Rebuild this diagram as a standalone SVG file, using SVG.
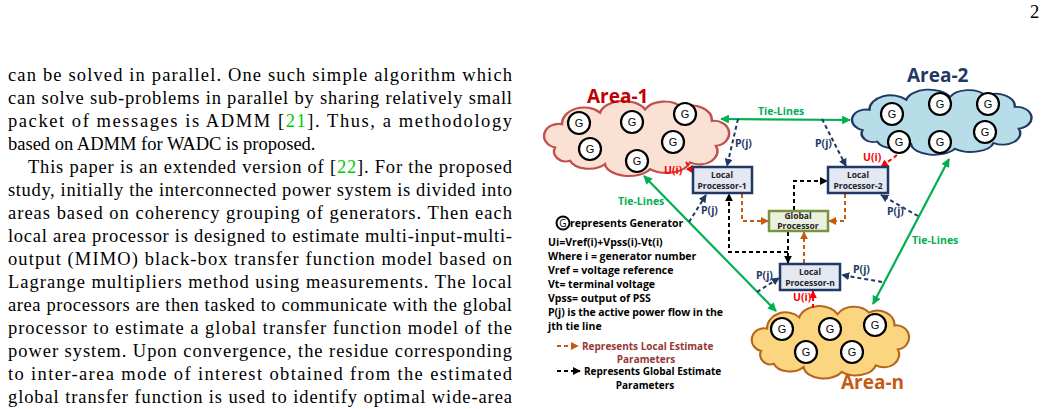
<svg xmlns="http://www.w3.org/2000/svg" width="1044" height="409" viewBox="0 0 1044 409">
<style>
.body{font-family:"Liberation Serif",serif;font-size:18.5px;fill:#000}
.d{font-family:"Open Sans","Liberation Sans",sans-serif;font-weight:bold}
.g circle{fill:#fff;stroke:#000;stroke-width:2.2}
.g text{font-family:"Liberation Sans",sans-serif;font-size:11px;text-anchor:middle;fill:#000}
.tie{stroke:#00b050;stroke-width:2.2;fill:none;marker-end:url(#mg);marker-start:url(#mgs)}
.pj{stroke:#1f3864;stroke-width:2;stroke-dasharray:4 3;fill:none;marker-end:url(#mn)}
.ui{stroke:#ff0000;stroke-width:2;stroke-dasharray:4 3;fill:none;marker-end:url(#mr)}
.loc{stroke:#c55a11;stroke-width:2;stroke-dasharray:4 3;fill:none;marker-end:url(#mo)}
.glb{stroke:#000;stroke-width:2;stroke-dasharray:4 3;fill:none;marker-end:url(#mk)}
.box{fill:#e4e8f2;stroke:#1f3864;stroke-width:2.5}
.bt{font-family:"Open Sans","Liberation Sans",sans-serif;font-weight:bold;font-size:8.5px;text-anchor:middle;fill:#222}
.lbl{font-family:"Open Sans","Liberation Sans",sans-serif;font-weight:bold;font-size:10.5px}
.leg{font-family:"Open Sans","Liberation Sans",sans-serif;font-weight:bold;font-size:10.5px;fill:#000}
</style>
<defs>
<path id="cloud" d="M13,50 A14 14 0 0 1 20,22 A22 20 0 0 1 58,8 A24 18 0 0 1 103,4 A22 18 0 0 1 140,2 A20 18 0 0 1 170,18 A14 14 0 0 1 174,48 A18 16 0 0 1 148,68 A24 16 0 0 1 108,76 A24 16 0 0 1 63,70 A20 14 0 0 1 28,66 A12 12 0 0 1 13,50 Z"/>
<marker id="mg" viewBox="0 0 10 10" refX="9" refY="5" markerWidth="4" markerHeight="4" orient="auto"><path d="M0,0L10,5L0,10z" fill="#00b050"/></marker>
<marker id="mgs" viewBox="0 0 10 10" refX="1" refY="5" markerWidth="4" markerHeight="4" orient="auto"><path d="M10,0L0,5L10,10z" fill="#00b050"/></marker>
<marker id="mn" viewBox="0 0 10 10" refX="9" refY="5" markerWidth="4" markerHeight="4" orient="auto"><path d="M0,0L10,5L0,10z" fill="#1f3864"/></marker>
<marker id="mr" viewBox="0 0 10 10" refX="9" refY="5" markerWidth="4" markerHeight="4" orient="auto"><path d="M0,0L10,5L0,10z" fill="#ff0000"/></marker>
<marker id="mo" viewBox="0 0 10 10" refX="9" refY="5" markerWidth="4" markerHeight="4" orient="auto"><path d="M0,0L10,5L0,10z" fill="#c55a11"/></marker>
<marker id="mk" viewBox="0 0 10 10" refX="9" refY="5" markerWidth="4" markerHeight="4" orient="auto"><path d="M0,0L10,5L0,10z" fill="#000"/></marker>
</defs>
<rect width="1044" height="409" fill="#fff"/>
<text class="body" x="1030" y="18" font-size="13">2</text>
<g class="body">
<text x="8" y="81" textLength="504" lengthAdjust="spacing">can be solved in parallel. One such simple algorithm which</text>
<text x="8" y="104" textLength="504" lengthAdjust="spacing">can solve sub-problems in parallel by sharing relatively small</text>
<text x="8" y="127" textLength="504" lengthAdjust="spacing">packet of messages is ADMM [<tspan fill="#00cc00">21</tspan>]. Thus, a methodology</text>
<text x="8" y="150">based on ADMM for WADC is proposed.</text>
<text x="28" y="173" textLength="484" lengthAdjust="spacing">This paper is an extended version of [<tspan fill="#00cc00">22</tspan>]. For the proposed</text>
<text x="8" y="196" textLength="504" lengthAdjust="spacing">study, initially the interconnected power system is divided into</text>
<text x="8" y="219" textLength="504" lengthAdjust="spacing">areas based on coherency grouping of generators. Then each</text>
<text x="8" y="242" textLength="504" lengthAdjust="spacing">local area processor is designed to estimate multi-input-multi-</text>
<text x="8" y="265" textLength="504" lengthAdjust="spacing">output (MIMO) black-box transfer function model based on</text>
<text x="8" y="288" textLength="504" lengthAdjust="spacing">Lagrange multipliers method using measurements. The local</text>
<text x="8" y="311" textLength="504" lengthAdjust="spacing">area processors are then tasked to communicate with the global</text>
<text x="8" y="334" textLength="504" lengthAdjust="spacing">processor to estimate a global transfer function model of the</text>
<text x="8" y="357" textLength="504" lengthAdjust="spacing">power system. Upon convergence, the residue corresponding</text>
<text x="8" y="380" textLength="504" lengthAdjust="spacing">to inter-area mode of interest obtained from the estimated</text>
<text x="8" y="403" textLength="504" lengthAdjust="spacing">global transfer function is used to identify optimal wide-area</text>
</g>

<g id="area1">
<use href="#cloud" transform="translate(542,106) scale(1,0.83)" fill="#fbe0d4" stroke="#c0504d" stroke-width="2.5" vector-effect="non-scaling-stroke"/>
<text class="d" x="587" y="103" font-size="19" fill="#c00000">Area-1</text>
<g class="g"><circle cx="579" cy="123" r="11"/><text x="579" y="127">G</text><circle cx="632" cy="122" r="11"/><text x="632" y="126">G</text><circle cx="685" cy="114" r="11"/><text x="685" y="118">G</text><circle cx="590" cy="149" r="11"/><text x="590" y="153">G</text><circle cx="637" cy="161" r="11"/><text x="637" y="165">G</text><circle cx="673" cy="142" r="11"/><text x="673" y="146">G</text></g>
</g>
<g id="area2">
<use href="#cloud" transform="translate(850,94) scale(0.97,0.72)" fill="#b7dde8" stroke="#1f3864" stroke-width="2.5" vector-effect="non-scaling-stroke"/>
<text class="d" x="907" y="82" font-size="19" fill="#1f3864">Area-2</text>
<g class="g"><circle cx="892" cy="114" r="11"/><text x="892" y="118">G</text><circle cx="940" cy="104" r="11"/><text x="940" y="108">G</text><circle cx="988" cy="104" r="11"/><text x="988" y="108">G</text><circle cx="899" cy="142" r="11"/><text x="899" y="146">G</text><circle cx="940" cy="142" r="11"/><text x="940" y="146">G</text><circle cx="985" cy="132" r="11"/><text x="985" y="136">G</text></g>
</g>
<g id="arean">
<use href="#cloud" transform="translate(750,311) scale(0.85,0.8)" fill="#fcd581" stroke="#b5651d" stroke-width="2.5" vector-effect="non-scaling-stroke"/>
<text class="d" x="841" y="389" font-size="19" fill="#c55a11">Area-n</text>
<g class="g"><circle cx="782" cy="329" r="11"/><text x="782" y="333">G</text><circle cx="830" cy="329" r="11"/><text x="830" y="333">G</text><circle cx="875" cy="325" r="11"/><text x="875" y="329">G</text><circle cx="806" cy="352" r="11"/><text x="806" y="356">G</text><circle cx="852" cy="352" r="11"/><text x="852" y="356">G</text></g>
</g>

<g id="connectors">
<path class="tie" d="M721,119 L850,120"/>
<path class="tie" d="M644,176 L776,311"/>
<path class="tie" d="M873,304 L949,159"/>
<text class="lbl" x="758" y="115" fill="#00b050">Tie-Lines</text>
<text class="lbl" x="618" y="205" fill="#00b050">Tie-Lines</text>
<text class="lbl" x="912" y="244" fill="#00b050">Tie-Lines</text>
<path class="pj" d="M738,119 L727,166"/>
<path class="pj" d="M822,119 L846,166"/>
<path class="pj" d="M689,222 L706,195"/>
<path class="pj" d="M918,216 L881,195"/>
<path class="pj" d="M757,292 L779,278"/>
<path class="pj" d="M882,282 L842,275"/>
<g class="lbl" fill="#1f3864"><text x="735" y="147">P(j)</text><text x="815" y="147">P(j)</text><text x="701" y="214">P(j)</text><text x="887" y="215">P(j)</text><text x="756" y="279">P(j)</text><text x="853" y="273">P(j)</text></g>
<path class="ui" d="M686,162 L693,173"/>
<path class="ui" d="M897,155 L881,167"/>
<path class="ui" d="M813,308 L813,291"/>
<g class="lbl" fill="#ff0000"><text x="664" y="174">U(i)</text><text x="863" y="161">U(i)</text><text x="793" y="301">U(i)</text></g>
<path class="loc" d="M742,194 V221 H768"/>
<path class="loc" d="M845,194 V221 H829"/>
<path class="loc" d="M804,263 V232"/>
<path class="glb" d="M794,210 V181 H827"/>
<path class="glb" d="M788,232 V263"/>
<path class="glb" d="M788,252 H729 V194"/>
</g>

<g id="lp1"><rect class="box" x="693" y="167" width="59" height="26"/><text class="bt" x="722" y="178">Local</text><text class="bt" x="722" y="189">Processor-1</text></g>
<g id="lp2"><rect class="box" x="828" y="167" width="60" height="26"/><text class="bt" x="858" y="178">Local</text><text class="bt" x="858" y="189">Processor-2</text></g>
<g id="gp"><rect x="769" y="211" width="59" height="20" fill="#ebf1de" stroke="#77933c" stroke-width="2.5"/><text class="bt" x="798" y="219">Global</text><text class="bt" x="798" y="229">Processor</text></g>
<g id="lpn"><rect class="box" x="780" y="264" width="60" height="26"/><text class="bt" x="810" y="275">Local</text><text class="bt" x="810" y="286">Processor-n</text></g>

<g id="legend" class="leg">
<circle cx="563" cy="223" r="6.5" fill="#fff" stroke="#000" stroke-width="2"/>
<text x="563" y="227" font-size="10" text-anchor="middle" font-weight="normal">G</text>
<text x="570" y="227">represents Generator</text>
<text x="548" y="246">Ui=Vref(i)+Vpss(i)-Vt(i)</text>
<text x="548" y="260">Where i = generator number</text>
<text x="548" y="274">Vref = voltage reference</text>
<text x="548" y="288">Vt= terminal voltage</text>
<text x="548" y="302">Vpss= output of PSS</text>
<text x="548" y="316" textLength="175" lengthAdjust="spacing">P(j) is the active power flow in the</text>
<text x="548" y="330">jth tie line</text>
<path class="loc" d="M557,346 H578"/>
<text x="582" y="350" font-size="10" fill="#953735">Represents Local Estimate</text>
<text x="646" y="363" font-size="10" fill="#953735" text-anchor="middle">Parameters</text>
<path class="glb" d="M557,371 H580"/>
<text x="584" y="375" font-size="10">Represents Global Estimate</text>
<text x="645" y="389" font-size="10" text-anchor="middle">Parameters</text>
</g>
</svg>
